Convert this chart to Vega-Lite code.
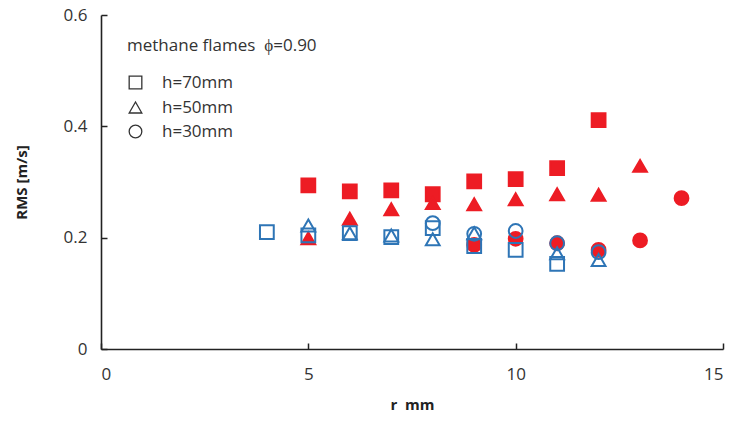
{
  "$schema": "https://vega.github.io/schema/vega-lite/v6.json",
  "width": 622,
  "height": 334,
  "autosize": {"type": "none"},
  "padding": {"left": 101, "top": 15, "right": 12, "bottom": 72},
  "background": "white",
  "config": {
    "view": {"stroke": null},
    "font": "Open Sans",
    "axis": {
      "domainColor": "#222222",
      "domainWidth": 1.6,
      "ticks": true,
      "tickColor": "#222222",
      "tickWidth": 1.5,
      "tickSize": -6,
      "grid": false,
      "zindex": 1,
      "labelFont": "Open Sans",
      "labelFontSize": 17,
      "labelColor": "#333333",
      "titleFont": "Open Sans",
      "titleFontSize": 15,
      "titleFontWeight": "bold",
      "titleColor": "#222222"
    },
    "legend": {
      "symbolFillColor": "transparent",
      "symbolStrokeColor": "#333333",
      "symbolStrokeWidth": 1.3
    }
  },
  "data": {
    "values": [
      {"r": 5, "v": 0.294, "h": "h=70mm", "g": "red"},
      {"r": 6, "v": 0.283, "h": "h=70mm", "g": "red"},
      {"r": 7, "v": 0.285, "h": "h=70mm", "g": "red"},
      {"r": 8, "v": 0.278, "h": "h=70mm", "g": "red"},
      {"r": 9, "v": 0.301, "h": "h=70mm", "g": "red"},
      {"r": 10, "v": 0.305, "h": "h=70mm", "g": "red"},
      {"r": 11, "v": 0.325, "h": "h=70mm", "g": "red"},
      {"r": 12, "v": 0.411, "h": "h=70mm", "g": "red"},
      {"r": 5, "v": 0.199, "h": "h=50mm", "g": "red"},
      {"r": 6, "v": 0.234, "h": "h=50mm", "g": "red"},
      {"r": 7, "v": 0.251, "h": "h=50mm", "g": "red"},
      {"r": 8, "v": 0.262, "h": "h=50mm", "g": "red"},
      {"r": 9, "v": 0.260, "h": "h=50mm", "g": "red"},
      {"r": 10, "v": 0.269, "h": "h=50mm", "g": "red"},
      {"r": 11, "v": 0.278, "h": "h=50mm", "g": "red"},
      {"r": 12, "v": 0.277, "h": "h=50mm", "g": "red"},
      {"r": 13, "v": 0.329, "h": "h=50mm", "g": "red"},
      {"r": 9, "v": 0.187, "h": "h=30mm", "g": "red"},
      {"r": 10, "v": 0.198, "h": "h=30mm", "g": "red"},
      {"r": 11, "v": 0.190, "h": "h=30mm", "g": "red"},
      {"r": 12, "v": 0.178, "h": "h=30mm", "g": "red"},
      {"r": 13, "v": 0.195, "h": "h=30mm", "g": "red"},
      {"r": 14, "v": 0.271, "h": "h=30mm", "g": "red"},
      {"r": 4, "v": 0.210, "h": "h=70mm", "g": "blue"},
      {"r": 5, "v": 0.204, "h": "h=70mm", "g": "blue"},
      {"r": 6, "v": 0.208, "h": "h=70mm", "g": "blue"},
      {"r": 7, "v": 0.201, "h": "h=70mm", "g": "blue"},
      {"r": 8, "v": 0.217, "h": "h=70mm", "g": "blue"},
      {"r": 9, "v": 0.185, "h": "h=70mm", "g": "blue"},
      {"r": 10, "v": 0.178, "h": "h=70mm", "g": "blue"},
      {"r": 11, "v": 0.153, "h": "h=70mm", "g": "blue"},
      {"r": 5, "v": 0.222, "h": "h=50mm", "g": "blue"},
      {"r": 6, "v": 0.208, "h": "h=50mm", "g": "blue"},
      {"r": 7, "v": 0.204, "h": "h=50mm", "g": "blue"},
      {"r": 8, "v": 0.197, "h": "h=50mm", "g": "blue"},
      {"r": 9, "v": 0.208, "h": "h=50mm", "g": "blue"},
      {"r": 11, "v": 0.172, "h": "h=50mm", "g": "blue"},
      {"r": 12, "v": 0.160, "h": "h=50mm", "g": "blue"},
      {"r": 8, "v": 0.226, "h": "h=30mm", "g": "blue"},
      {"r": 9, "v": 0.207, "h": "h=30mm", "g": "blue"},
      {"r": 10, "v": 0.212, "h": "h=30mm", "g": "blue"},
      {"r": 11, "v": 0.190, "h": "h=30mm", "g": "blue"},
      {"r": 12, "v": 0.174, "h": "h=30mm", "g": "blue"}
    ]
  },
  "mark": {"type": "point", "filled": true, "strokeWidth": 2, "opacity": 1, "size": 190},
  "encoding": {
    "x": {
      "field": "r", "type": "quantitative",
      "scale": {"domain": [0, 15], "nice": false},
      "axis": {"values": [0, 5, 10, 15], "labelPadding": 23, "title": "r\u00a0 mm", "titlePadding": 15}
    },
    "y": {
      "field": "v", "type": "quantitative",
      "scale": {"domain": [0, 0.6], "nice": false},
      "axis": {"values": [0, 0.2, 0.4, 0.6], "labelPadding": 20,
        "labelExpr": "datum.value == 0 ? '0' : format(datum.value, '.1f')",
        "title": "RMS [m/s]", "titlePadding": 34}
    },
    "fill": {
      "field": "g", "type": "nominal",
      "scale": {"domain": ["red", "blue"], "range": ["#ED1C24", "rgba(255,255,255,0)"]},
      "legend": null
    },
    "stroke": {
      "field": "g", "type": "nominal",
      "scale": {"domain": ["red", "blue"], "range": ["#ED1C24", "#2E75B6"]},
      "legend": null
    },
    "shape": {
      "field": "h", "type": "nominal",
      "scale": {"domain": ["h=70mm", "h=50mm", "h=30mm"], "range": ["square", "triangle-up", "circle"]},
      "legend": {
        "title": "methane flames\u00a0 ϕ=0.90",
        "orient": "none",
        "legendX": 26,
        "legendY": 23,
        "titleFontSize": 17,
        "titleFontWeight": "normal",
        "titleColor": "#333333",
        "titleFont": "Open Sans",
        "titleLimit": 500,
        "titlePadding": 19,
        "labelFontSize": 17,
        "labelColor": "#333333",
        "labelFont": "Open Sans",
        "symbolSize": 160,
        "symbolOffset": 0,
        "rowPadding": 6,
        "labelOffset": 18,
        "symbolFillColor": "transparent",
        "symbolStrokeColor": "#333333",
        "symbolStrokeWidth": 1.3
      }
    }
  }
}
